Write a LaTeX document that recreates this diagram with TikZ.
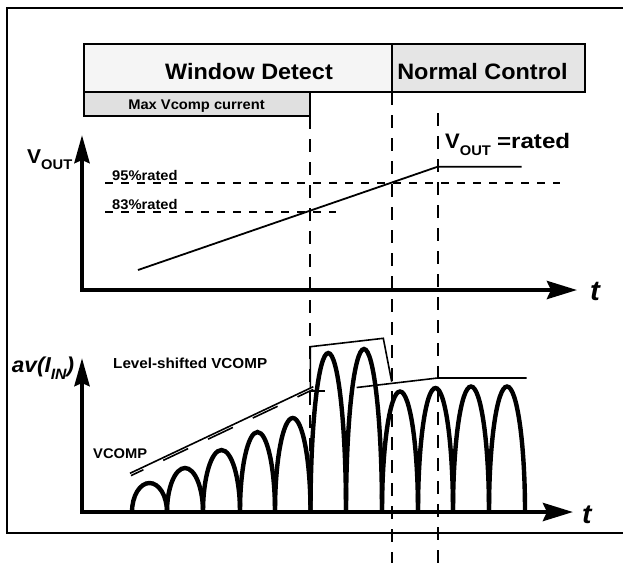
\documentclass[tikz,border=0pt]{standalone}
\usepackage{fontspec}
\setmainfont{Liberation Sans}[FakeStretch=1.05]
\newfontfamily\widefont{Liberation Sans}[FakeStretch=1.15]
\usetikzlibrary{arrows.meta}
\definecolor{wdfill}{gray}{0.96}
\definecolor{ncfill}{gray}{0.90}
\definecolor{mxfill}{gray}{0.88}
\tikzset{
  fs/.style={font=\fontsize{#1}{#1}\selectfont\bfseries},
  fsi/.style={font=\fontsize{#1}{#1}\selectfont\bfseries\itshape},
  lbl/.style={inner sep=0pt, anchor=base west},
  ctr/.style={inner sep=0pt, anchor=base},
  boxline/.style={line width=2pt},
  vdash/.style={line width=2.3pt, dash pattern=on 13pt off 10pt},
  hdash/.style={line width=1.8pt, dash pattern=on 8pt off 8pt},
  axisline/.style={line width=4.2pt},
  arch/.style={line width=4.4pt},
  thinl/.style={line width=1.6pt},
}
\begin{document}
\begin{tikzpicture}[x=1pt,y=-1pt]
\useasboundingbox (0,0) rectangle (623,563);
\clip (0,0) rectangle (623,563);
% outer frame
\draw[line width=2pt] (7,7.5) rectangle (640,533);
% phase boxes
\draw[boxline, fill=wdfill] (84,44.3) rectangle (392,92.3);
\draw[boxline, fill=ncfill] (392,44.3) rectangle (585,92.3);
\draw[boxline, fill=mxfill] (84,92.3) rectangle (310.3,116);
\node[ctr, fs=22.3] (wdt) at (249,79) {Window Detect};
\node[ctr, fs=22.3] (nct) at (482.5,79) {Normal Control};
\node[ctr, fs=14] (mxt) at (196.5,109.3) {Max Vcomp current};
% vertical dashed markers
\coordinate (d1a) at (310.3,116);  \coordinate (d1b) at (310.3,512);
\coordinate (d2a) at (392,92.3);   \coordinate (d2b) at (392,563);
\coordinate (d3a) at (437.7,113);  \coordinate (d3b) at (437.7,563);
\draw[vdash] (d1a) -- (d1b);
\draw[vdash] (d2a) -- (d2b);
\draw[vdash] (d3a) -- (d3b);
% threshold lines
\draw[hdash] (105,183.3) -- (560,183.3);
\draw[hdash] (105,212.3) -- (336,212.3);
\node[lbl, fs=14] (p95) at (112,180) {95\%rated};
\node[lbl, fs=14] (p83) at (112,209.5) {83\%rated};
% top plot
\node[lbl, fs=20] (vout) at (27,163.3) {V\raisebox{-6pt}{\fontsize{14}{14}\selectfont OUT}};
\node[lbl, fs=21] (vrated) at (445,148.3) {V\raisebox{-6.7pt}{\fontsize{14}{14}\selectfont OUT} {\widefont\bfseries =rated}};
\coordinate (ya) at (82,135); \coordinate (o1) at (82,290); \coordinate (xa) at (577,290);
\draw[axisline, {Stealth[length=28pt,width=15pt,inset=3pt]}-{Stealth[length=30pt,width=18pt,inset=4pt]}] (ya) -- (o1) -- (xa);
\node[lbl, fsi=28] (t1) at (590,300) {t};
\coordinate (r0) at (138,270); \coordinate (r1) at (437.7,166.7); \coordinate (r2) at (521.7,166.7);
\draw[line width=1.8pt] (r0) -- (r1) -- (r2);
% bottom plot
\node[lbl, fsi=21.5] (av) at (11.7,372.7) {av(I\raisebox{-7pt}{\fontsize{15}{15}\selectfont IN})};
\node[lbl, fs=14.5] (ls) at (113,368.3) {Level-shifted VCOMP};
\node[lbl, fs=14] (vc) at (93,458.3) {VCOMP};
\coordinate (yb) at (82,358); \coordinate (o2) at (82,512); \coordinate (xb) at (573,512);
\foreach \a/\b/\p [evaluate=\a as \rx using (\b-\a)/2, evaluate=\p as \ry using 512-\p] in
  {132/167/483, 167/203/468, 203/240/450, 240/275/432, 275/310.5/418,
   310.5/346/353, 346/382/349, 382/418/391.5, 418/453/388, 453/489/386.5, 489/525/386.5}
  \draw[arch] (\a,512) arc[start angle=180, end angle=0, x radius=\rx pt, y radius=\ry pt];
\draw[axisline, {Stealth[length=28pt,width=15pt,inset=3pt]}-{Stealth[length=30pt,width=18pt,inset=4pt]}] (yb) -- (o2) -- (xb);
\node[lbl, fsi=27] (t2) at (582,523.3) {t};
% VCOMP lines
\coordinate (v0) at (130,473.3); \coordinate (v1) at (313.3,386.7);
\draw[thinl] (v0) -- (v1);
\coordinate (w0) at (131,475.6); \coordinate (w1) at (313.3,389.4);
\draw[thinl, dash pattern=on 27.5pt off 22pt, dash phase=13.8pt] (w0) -- (w1);
\coordinate (k0) at (310,391); \coordinate (k1) at (325,391);
\draw[thinl] (k0) -- (k1);
% level-shifted envelope
\coordinate (e0) at (310.3,388); \coordinate (e1) at (310.3,346.7);
\coordinate (e2) at (383.3,338.3); \coordinate (e3) at (391.7,381.7);
\draw[thinl] (e0) -- (e1) -- (e2) -- (e3);
\coordinate (f0) at (356.7,387.5); \coordinate (f1) at (437.7,378); \coordinate (f2) at (526.7,378);
\draw[thinl] (f0) -- (f1) -- (f2);
\end{tikzpicture}
\end{document}
